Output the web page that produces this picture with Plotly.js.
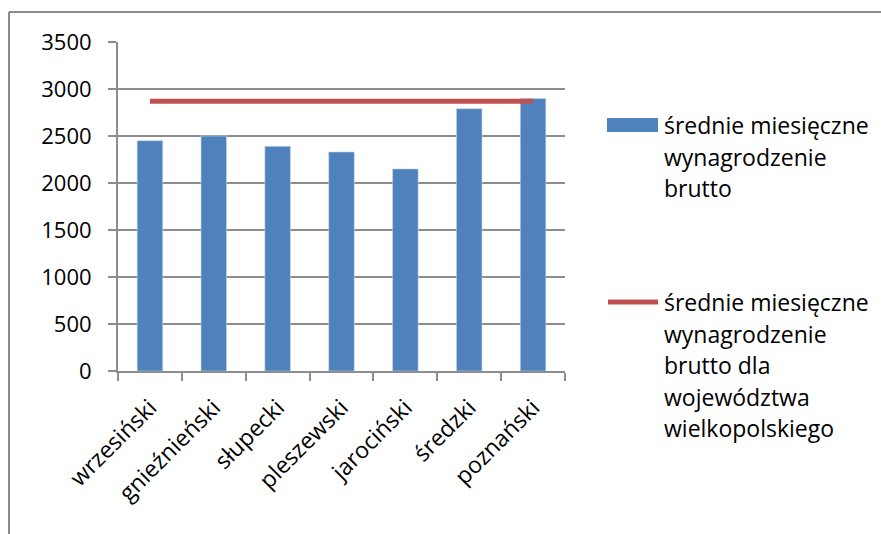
<!DOCTYPE html>
<html>
<head>
<meta charset="utf-8">
<script src="https://cdn.plot.ly/plotly-3.0.1.min.js"></script>
<style>
  html, body { margin: 0; padding: 0; background: #ffffff; }
  #chart { width: 881px; height: 534px; }
</style>
</head>
<body>
<div id="chart"></div>
<script>
// ---- data ----
const categories = ["wrzesiński", "gnieźnieński", "słupecki", "pleszewski", "jarociński", "średzki", "poznański"];
const wagesPowiat = [2450, 2500, 2390, 2330, 2150, 2790, 2900];
const wagesVoivodeship = [2870, 2870, 2870, 2870, 2870, 2870, 2870];
const seriesNameLines = [
  ["średnie miesięczne", "wynagrodzenie", "brutto"],
  ["średnie miesięczne", "wynagrodzenie", "brutto dla", "województwa", "wielkopolskiego"]
];
const yTicks = [0, 500, 1000, 1500, 2000, 2500, 3000, 3500];

const barColor = "#4f81bd";
const lineColor = "#c0504d";
const gridColor = "#8d8d8d";
const fontFamily = "'Open Sans', 'Noto Sans', sans-serif";

// plot area in pixels: x 118..565, y 42..371
const L = 118, R = 565, T = 42, B = 371;
const px = v => (v - L) / (R - L);
const py = v => (B - v) / (B - T);

const traces = [
  {
    type: "bar",
    x: categories,
    y: wagesPowiat,
    name: seriesNameLines[0].join(" "),
    marker: { color: barColor, line: { color: "rgba(200,215,235,0.6)", width: 1 } },
    hoverinfo: "x+y"
  },
  {
    type: "scatter",
    mode: "lines",
    x: categories,
    y: wagesVoivodeship,
    name: seriesNameLines[1].join(" "),
    line: { color: lineColor, width: 5 },
    hoverinfo: "x+y"
  }
];

// legend: symbol + text lines, placed to the right of the plot
const legendItems = [
  { firstLineY: 125, symbol: "rect" },
  { firstLineY: 302, symbol: "line" }
];
const lineStep = 31.5;
const legendAnnotations = [];
legendItems.forEach((item, i) => {
  seriesNameLines[i].forEach((txt, j) => {
    legendAnnotations.push({
      xref: "paper", yref: "paper",
      x: px(662), y: py(item.firstLineY + j * lineStep),
      xanchor: "left", yanchor: "middle",
      text: txt, showarrow: false, align: "left",
      font: { family: fontFamily, size: 23, color: "#000000" }
    });
  });
});

const layout = {
  width: 881,
  height: 534,
  margin: { l: L, r: 881 - R, t: T, b: 534 - B, pad: 0 },
  paper_bgcolor: "#ffffff",
  plot_bgcolor: "#ffffff",
  showlegend: false,
  bargap: 0.6,
  font: { family: fontFamily, size: 22, color: "#000000" },
  xaxis: {
    type: "category",
    range: [-0.5, categories.length - 0.5],
    tickangle: -45,
    ticks: "outside",
    tickson: "boundaries",
    ticklen: 8,
    tickwidth: 2,
    tickcolor: gridColor,
    showline: true,
    linecolor: gridColor,
    linewidth: 2,
    showgrid: false,
    ticklabelstandoff: 12,
    tickfont: { family: fontFamily, size: 23, color: "#000000" }
  },
  yaxis: {
    range: [0, 3500],
    tickvals: yTicks,
    ticktext: yTicks.map(String),
    ticks: "outside",
    ticklen: 8,
    tickwidth: 2,
    tickcolor: gridColor,
    showline: true,
    linecolor: gridColor,
    linewidth: 2,
    showgrid: true,
    gridcolor: gridColor,
    gridwidth: 2,
    zeroline: false,
    ticklabelstandoff: 12,
    tickfont: { family: fontFamily, size: 22, color: "#000000" }
  },
  shapes: [
    // outer chart frame (top and left edges visible)
    { type: "line", xref: "paper", yref: "paper", x0: px(9), x1: px(890), y0: py(12), y1: py(12),
      line: { color: "#8a8a8a", width: 2 } },
    { type: "line", xref: "paper", yref: "paper", x0: px(9), x1: px(9), y0: py(12), y1: py(545),
      line: { color: "#8a8a8a", width: 2 } },
    // legend symbols
    { type: "rect", xref: "paper", yref: "paper", x0: px(607), x1: px(658), y0: py(118), y1: py(132),
      fillcolor: barColor, line: { width: 0 } },
    { type: "line", xref: "paper", yref: "paper", x0: px(608), x1: px(658), y0: py(302), y1: py(302),
      line: { color: lineColor, width: 5 } }
  ],
  annotations: legendAnnotations
};

Plotly.newPlot("chart", traces, layout, { displayModeBar: false, staticPlot: true });
</script>
</body>
</html>
